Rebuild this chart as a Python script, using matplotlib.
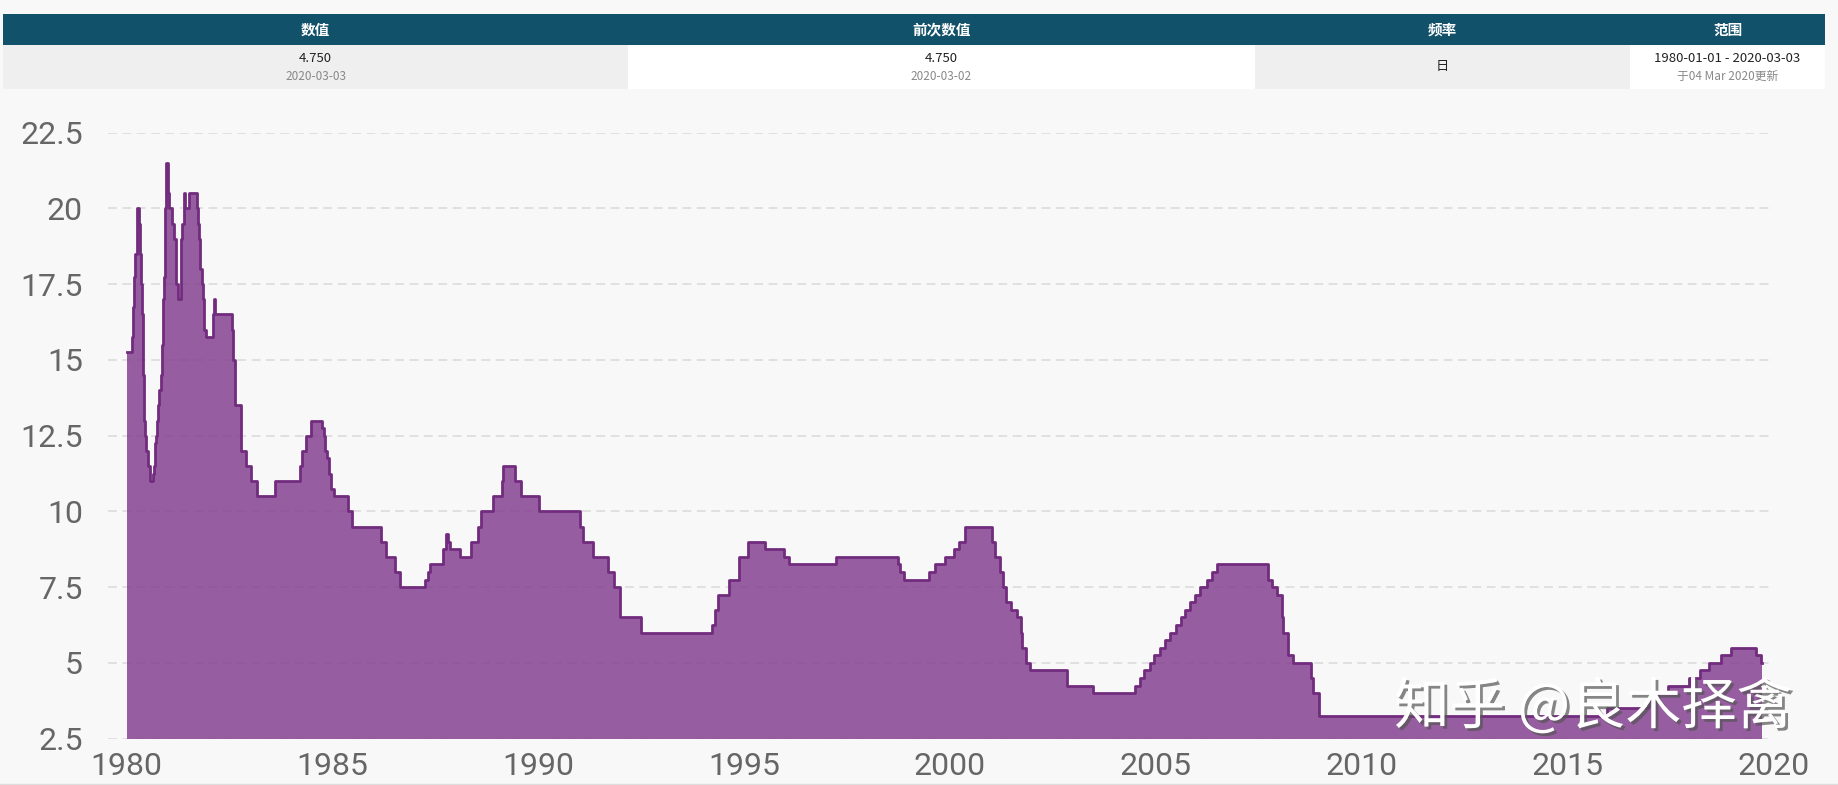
import matplotlib
matplotlib.use('Agg')
import matplotlib.pyplot as plt
import matplotlib.dates as mdates
import matplotlib.patheffects as pe
from matplotlib.patches import Rectangle
from matplotlib.lines import Line2D
import pandas as pd

# prime rate change points (step series, value holds until next date)
change_dates = [
    '1980-01-01', '1980-02-19', '1980-02-22', '1980-02-29', '1980-03-04', '1980-03-07',
    '1980-03-14', '1980-03-19', '1980-03-28', '1980-04-02', '1980-04-18', '1980-05-01',
    '1980-05-02', '1980-05-07', '1980-05-16', '1980-05-23', '1980-05-30', '1980-06-06',
    '1980-06-13', '1980-06-20', '1980-07-07', '1980-07-25', '1980-08-22', '1980-08-27',
    '1980-09-08', '1980-09-12', '1980-09-19', '1980-09-26', '1980-10-01', '1980-10-17',
    '1980-10-29', '1980-11-06', '1980-11-17', '1980-11-21', '1980-11-26', '1980-12-02',
    '1980-12-05', '1980-12-10', '1980-12-16', '1980-12-19',
    '1981-01-02', '1981-01-09', '1981-02-03', '1981-02-23', '1981-03-10', '1981-03-17',
    '1981-04-02', '1981-04-24', '1981-05-01', '1981-05-05', '1981-05-19', '1981-05-22',
    '1981-06-04', '1981-07-08', '1981-09-15', '1981-09-21', '1981-10-05', '1981-10-13',
    '1981-11-03', '1981-11-09', '1981-11-17', '1981-11-20', '1981-12-01',
    '1982-02-02', '1982-02-18', '1982-02-23', '1982-07-20', '1982-07-29', '1982-08-02',
    '1982-08-16', '1982-08-18', '1982-08-23', '1982-10-07', '1982-10-14', '1982-11-22',
    '1983-01-11', '1983-02-28', '1983-08-08',
    '1984-03-19', '1984-04-05', '1984-05-08', '1984-06-25', '1984-09-27', '1984-10-17',
    '1984-10-29', '1984-11-09', '1984-11-28', '1984-12-20',
    '1985-01-15', '1985-05-20', '1985-06-18',
    '1986-03-07', '1986-04-21', '1986-07-11', '1986-08-26',
    '1987-04-01', '1987-05-01', '1987-05-15', '1987-09-04', '1987-10-07', '1987-10-22',
    '1987-11-05',
    '1988-02-02', '1988-05-11', '1988-07-14', '1988-08-11', '1988-11-28',
    '1989-02-10', '1989-02-24', '1989-06-05', '1989-07-31',
    '1990-01-08',
    '1991-01-02', '1991-02-04', '1991-05-01', '1991-09-13', '1991-11-06', '1991-12-23',
    '1992-07-02',
    '1994-03-24', '1994-04-19', '1994-05-17', '1994-08-16', '1994-11-15',
    '1995-02-01', '1995-07-07', '1995-12-20',
    '1996-02-01', '1997-03-26',
    '1998-09-30', '1998-10-16', '1998-11-18',
    '1999-07-01', '1999-08-25', '1999-11-17',
    '2000-02-03', '2000-03-22', '2000-05-17',
    '2001-01-04', '2001-02-01', '2001-03-21', '2001-04-19', '2001-05-16', '2001-06-28',
    '2001-08-22', '2001-09-18', '2001-10-03', '2001-11-07', '2001-12-12',
    '2002-11-07', '2003-06-27',
    '2004-07-01', '2004-08-11', '2004-09-22', '2004-11-11', '2004-12-15',
    '2005-02-03', '2005-03-22', '2005-05-04', '2005-07-01', '2005-08-10', '2005-09-21',
    '2005-11-02', '2005-12-14',
    '2006-01-31', '2006-03-29', '2006-05-11', '2006-06-29',
    '2007-09-19', '2007-11-01', '2007-12-12',
    '2008-01-22', '2008-01-31', '2008-03-19', '2008-05-01', '2008-10-09', '2008-10-30',
    '2008-12-17',
    '2015-12-17', '2016-12-15',
    '2017-03-16', '2017-06-15', '2017-12-14',
    '2018-03-22', '2018-06-14', '2018-09-27', '2018-12-20',
    '2019-08-01', '2019-09-19', '2019-09-25',
]
rates = [
    15.25, 15.75, 16.25, 16.75, 17.25, 17.75,
    18.25, 18.5, 19.5, 20.0, 19.5, 19.0,
    18.5, 17.5, 16.5, 14.5, 14.0, 13.0,
    12.5, 12.0, 11.5, 11.0, 11.25, 11.5,
    12.0, 12.25, 12.5, 13.0, 13.5, 14.0,
    14.5, 15.5, 16.25, 17.0, 17.75, 18.5,
    19.0, 20.0, 20.5, 21.5,
    20.5, 20.0, 19.5, 19.0, 18.0, 17.5,
    17.0, 18.0, 19.0, 19.5, 20.0, 20.5,
    20.0, 20.5, 20.0, 19.5, 19.0, 18.0,
    17.5, 17.0, 16.5, 16.0, 15.75,
    16.5, 17.0, 16.5, 16.0, 15.5, 15.0,
    14.5, 14.0, 13.5, 13.0, 12.0, 11.5,
    11.0, 10.5, 11.0,
    11.5, 12.0, 12.5, 13.0, 12.75, 12.5,
    12.0, 11.75, 11.25, 10.75,
    10.5, 10.0, 9.5,
    9.0, 8.5, 8.0, 7.5,
    7.75, 8.0, 8.25, 8.75, 9.25, 9.0,
    8.75,
    8.5, 9.0, 9.5, 10.0, 10.5,
    11.0, 11.5, 11.0, 10.5,
    10.0,
    9.5, 9.0, 8.5, 8.0, 7.5, 6.5,
    6.0,
    6.25, 6.75, 7.25, 7.75, 8.5,
    9.0, 8.75, 8.5,
    8.25, 8.5,
    8.25, 8.0, 7.75,
    8.0, 8.25, 8.5,
    8.75, 9.0, 9.5,
    9.0, 8.5, 8.0, 7.5, 7.0, 6.75,
    6.5, 6.0, 5.5, 5.0, 4.75,
    4.25, 4.0,
    4.25, 4.5, 4.75, 5.0, 5.25,
    5.5, 5.75, 6.0, 6.25, 6.5, 6.75,
    7.0, 7.25,
    7.5, 7.75, 8.0, 8.25,
    7.75, 7.5, 7.25,
    6.5, 6.0, 5.25, 5.0, 4.5, 4.0,
    3.25,
    3.5, 3.75,
    4.0, 4.25, 4.5,
    4.75, 5.0, 5.25, 5.5,
    5.25, 5.0, 5.0,
]
y_ticks = [2.5, 5, 7.5, 10, 12.5, 15, 17.5, 20, 22.5]

headers = ['数值', '前次数值', '频率', '范围']
values = ['4.750', '4.750', '日', '1980-01-01 - 2020-03-03']
sub_values = ['2020-03-03', '2020-03-02', '', '于04 Mar 2020更新']
watermark = '知乎 @良木择禽'

W, H = 1838, 785
BG = '#f8f8f8'
CJK = ['Noto Sans CJK SC', 'DejaVu Sans']

dates = pd.to_datetime(change_dates)

fig = plt.figure(figsize=(W / 100, H / 100), dpi=100, facecolor=BG)


def fx(px):
    return px / W


def fy(py):
    return 1 - py / H


# header table
col_edges = [3, 628, 1255, 1630, 1825]
cell_bg = ['#efefef', '#ffffff', '#efefef', '#ffffff']
fig.add_artist(Rectangle((fx(3), fy(44.5)), fx(1822), 31 / H, facecolor='#12516a',
                         edgecolor='none', transform=fig.transFigure))
for i in range(4):
    x0, x1 = col_edges[i], col_edges[i + 1]
    xc = fx((x0 + x1) / 2)
    fig.add_artist(Rectangle((fx(x0), fy(88.5)), fx(x1 - x0), 44 / H, facecolor=cell_bg[i],
                             edgecolor='none', transform=fig.transFigure))
    fig.text(xc, fy(29.5), headers[i], color='white', fontsize=10.5, fontweight='bold',
             family=CJK, ha='center', va='center')
    if sub_values[i]:
        fig.text(xc, fy(59), values[i], color='#222222', fontsize=9.5, family=CJK,
                 ha='center', va='center')
        fig.text(xc, fy(76.5), sub_values[i], color='#888888', fontsize=8.5, family=CJK,
                 ha='center', va='center')
    else:
        fig.text(xc, fy(66.5), values[i], color='#222222', fontsize=9.5, family=CJK,
                 ha='center', va='center')

# chart
ax = fig.add_axes([fx(108), fy(738.6), fx(1666), (738.6 - 132.7) / H])
ax.set_facecolor(BG)
ax.fill_between(dates, rates, 2.5, step='post', color='#854391', alpha=0.85,
                linewidth=0, zorder=2)
ax.step(dates, rates, where='post', color='#722c7e', linewidth=2.0, zorder=3)

ax.set_ylim(2.5, 22.5)
ax.set_xlim(pd.Timestamp('1979-07-19'), pd.Timestamp('2020-01-08'))
ax.set_yticks(y_ticks)
ax.set_yticklabels(['%g' % v for v in y_ticks])
ax.xaxis.set_major_locator(mdates.YearLocator(5))
ax.xaxis.set_major_formatter(mdates.DateFormatter('%Y'))

ax.yaxis.grid(True, color='#d9d9d9', linestyle=(0, (5.8, 3.6)), linewidth=1.1, zorder=1)
ax.set_axisbelow(True)
for s in ax.spines.values():
    s.set_visible(False)
ax.tick_params(axis='both', length=0, labelsize=23, labelcolor='#666666')
ax.tick_params(axis='y', pad=18)
ax.tick_params(axis='x', pad=10)
for lab in ax.get_xticklabels() + ax.get_yticklabels():
    lab.set_family(['Roboto', 'DejaVu Sans'])

fig.add_artist(Line2D([0, 1], [fy(783.5)] * 2, color='#dddddd', linewidth=1,
                      transform=fig.transFigure))

# watermark
fig.text(fx(1593), fy(708), watermark, color='white', fontsize=40, family=CJK,
         ha='center', va='center', zorder=10,
         path_effects=[pe.SimplePatchShadow(offset=(2, -2), shadow_rgbFace='#555555', alpha=0.7),
                       pe.Normal()])

fig.savefig('out.png', dpi=100, facecolor=BG)
